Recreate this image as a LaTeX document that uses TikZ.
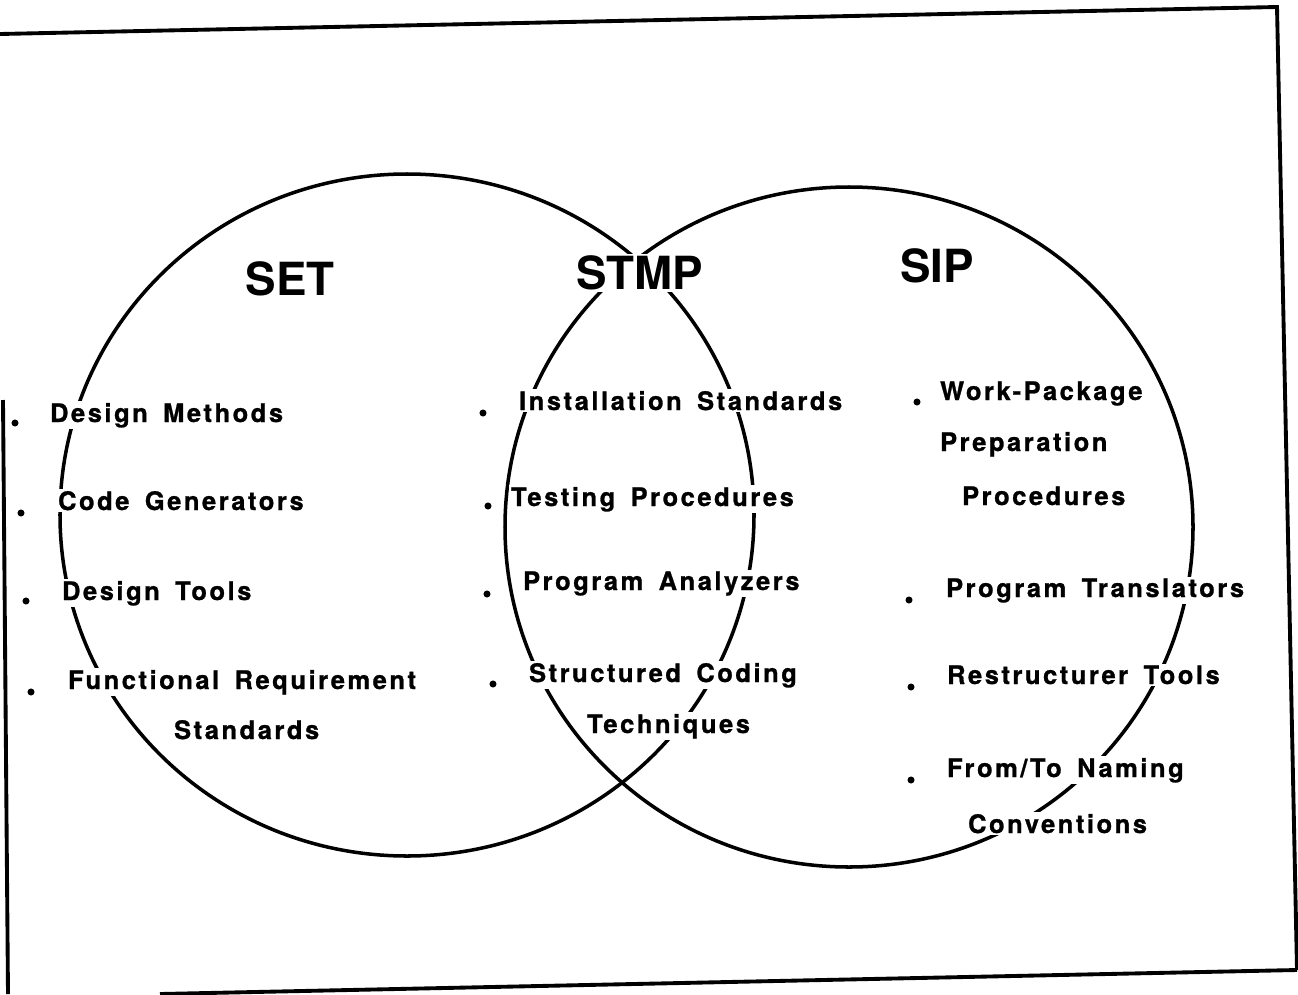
\documentclass[tikz,border=0pt]{standalone}
\usepackage{fontspec}
\setmainfont{TeX Gyre Heros}
\newfontfamily\itemfont{TeX Gyre Heros}[LetterSpace=10, WordSpace=1.6, FakeBold=1]
\usetikzlibrary{positioning}

\begin{document}
\begin{tikzpicture}[
    x=0.02cm, y=-0.02cm,
    ring/.style={line width=2pt},
    frame/.style={line width=2.2pt},
    title/.style={font=\fontsize{26}{30}\selectfont\bfseries, fill=white, inner sep=1pt},
    item/.style={anchor=base west, font=\itemfont\fontsize{14.5}{17}\selectfont\bfseries,
                 fill=white, inner sep=1pt},
    dot/.style={circle, fill, inner sep=0pt, minimum size=4pt},
]
\useasboundingbox (0,0) rectangle (1298,994);

% page frame
\coordinate (tl) at (0,34);
\coordinate (tr) at (1277,7);
\coordinate (br) at (1297,970);
\coordinate (bl) at (160,994);
\coordinate (lt) at (3,400);
\coordinate (lb) at (8,994);
\draw[frame] (tl) -- (tr) -- (br);
\draw[frame] (bl) -- (br);
\draw[frame] (lt) -- (lb);

% the two sets
\draw[ring] (407,515) ellipse [x radius=347, y radius=341];
\draw[ring] (849,527) ellipse [x radius=344, y radius=340];

% titles
\node[title] (set)  at (290,279) {SET};
\node[title] (stmp) at (640,273) {STMP};
\node[title] (sip)  at (937,266) {SIP};

% SET items
\node[dot] (b-dm) at (15,423) {};
\node[item] (dm) at (48,422) {Design Methods};
\node[dot] (b-cg) at (21,513) {};
\node[item] (cg) at (56,510) {Code Generators};
\node[dot] (b-dt) at (26,601) {};
\node[item] (dt) at (60,600) {Design Tools};
\node[dot] (b-fr) at (31,692) {};
\node[item] (fr) at (66,689) {Functional Requirement};
\node[item] (fs) at (172,739) {Standards};

% STMP items
\node[dot] (b-is) at (483,413) {};
\node[item] (is) at (517,410) {Installation Standards};
\node[dot] (b-tp) at (488,506) {};
\node[item] (tp) at (509,506) {Testing Procedures};
\node[dot] (b-pa) at (487,594) {};
\node[item] (pa) at (521,590) {Program Analyzers};
\node[dot] (b-sc) at (493,684) {};
\node[item] (sc) at (527,682) {Structured Coding};
\node[item] (tq) at (585,733) {Techniques};

% SIP items
\node[dot] (b-wp) at (917,402) {};
\node[item] (wp) at (938,400) {Work-Package};
\node[item] (pr) at (938,451) {Preparation};
\node[item] (pc) at (960,505) {Procedures};
\node[dot] (b-pt) at (909,600) {};
\node[item] (pt) at (944,597) {Program Translators};
\node[dot] (b-rt) at (911,687) {};
\node[item] (rt) at (945,684) {Restructurer Tools};
\node[dot] (b-fn) at (911,780) {};
\node[item] (fn) at (945,777) {From/To Naming};
\node[item] (cv) at (966,833) {Conventions};

\end{tikzpicture}
\end{document}
